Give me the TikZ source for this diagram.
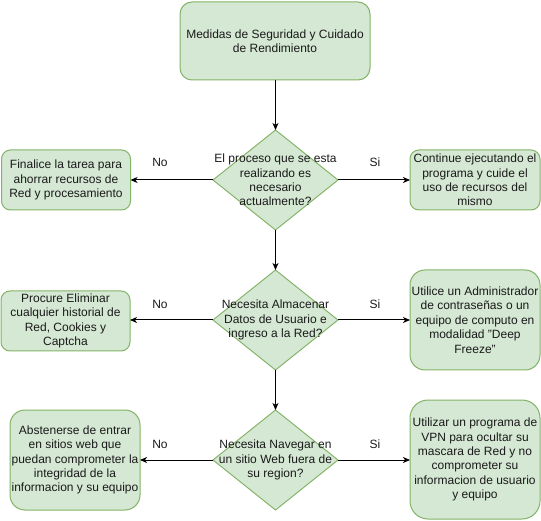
\documentclass[tikz,border=0pt]{standalone}
\usepackage{fontspec}
\setmainfont{Liberation Sans}
\usetikzlibrary{shapes.geometric,arrows.meta}
\definecolor{boxfill}{HTML}{D5E8D4}
\definecolor{boxline}{HTML}{82B366}
\definecolor{txt}{HTML}{1A1A1A}
\tikzset{
  txtfont/.style={font=\fontsize{12}{14.4}\selectfont, text=txt},
  box/.style={draw=boxline, fill=boxfill, line width=1pt, rounded corners=#1,
    inner sep=0pt, outer sep=0pt, align=center, txtfont},
  box/.default=9pt,
  dia/.style={draw=boxline, fill=boxfill, line width=1pt, diamond, inner sep=0pt,
    outer sep=0pt, minimum width=125pt, minimum height=100pt},
  dtext/.style={align=center, inner sep=0pt, txtfont},
  lbl/.style={inner sep=0pt, txtfont},
  conn/.style={draw=black, line width=1pt, -{Stealth[length=7pt,width=6pt,inset=2pt]}},
}
\begin{document}
\begin{tikzpicture}[x=1pt,y=-1pt]
\useasboundingbox (0,0) rectangle (541,521);
% top box
\node[box=12pt, minimum width=190pt, minimum height=78pt] (top) at (275,41)
  {Medidas de Seguridad y Cuidado\\de Rendimiento};
% diamonds
\node[dia] (d1) at (275.5,180) {};
\node[dtext] (t1) at (d1.center) {El proceso que se esta\\realizando es\\necesario\\actualmente?};
\node[dia] (d2) at (275.5,320) {};
\node[dtext] (t2) at (d2.center) {Necesita Almacenar\\Datos de Usuario e\\ingreso a la Red?};
\node[dia] (d3) at (275.5,460) {};
\node[dtext] (t3) at (d3.center) {Necesita Navegar en\\un sitio Web fuera de\\su region?};
% left boxes
\node[box=9pt, minimum width=129pt, minimum height=60pt] (l1) at (66,180)
  {Finalice la tarea para\\ahorrar recursos de\\Red y procesamiento};
\node[box=9pt, minimum width=129pt, minimum height=60pt] (l2) at (65.5,321)
  {Procure Eliminar\\cualquier historial de\\Red, Cookies y\\Captcha};
\node[box=15pt, minimum width=130pt, minimum height=100pt] (l3) at (75,460)
  {Abstenerse de entrar\\en sitios web que\\puedan comprometer la\\integridad de la\\informacion y su equipo};
% right boxes
\node[box=9pt, minimum width=130pt, minimum height=60pt] (r1) at (475,180)
  {Continue ejecutando el\\programa y cuide el\\uso de recursos del\\mismo};
\node[box=15pt, minimum width=130pt, minimum height=100pt] (r2) at (475,320)
  {Utilice un Administrador\\de contrase\~nas o un\\equipo de computo en\\modalidad "Deep\\Freeze"};
\node[box=18pt, minimum width=130pt, minimum height=119pt] (r3) at (475,459.5)
  {Utilizar un programa de\\VPN para ocultar su\\mascara de Red y no\\comprometer su\\informacion de usuario\\y equipo};
% connectors
\draw[conn] (top.south -| d1.north) -- (d1.north);
\draw[conn] (d1.south) -- (d2.north);
\draw[conn] (d2.south) -- (d3.north);
\draw[conn] (d1.west) -- (l1.east |- d1.west);
\draw[conn] (d1.east) -- (r1.west |- d1.east);
\draw[conn] (d2.west) -- (l2.east |- d2.west);
\draw[conn] (d2.east) -- (r2.west |- d2.east);
\draw[conn] (d3.west) -- (l3.east |- d3.west);
\draw[conn] (d3.east) -- (r3.west |- d3.east);
% labels
\node[lbl] (n1) at (160,162) {No};
\node[lbl] (s1) at (375,162) {Si};
\node[lbl] (n2) at (160,304) {No};
\node[lbl] (s2) at (375,304) {Si};
\node[lbl] (n3) at (160,444) {No};
\node[lbl] (s3) at (375,444) {Si};
\end{tikzpicture}
\end{document}
